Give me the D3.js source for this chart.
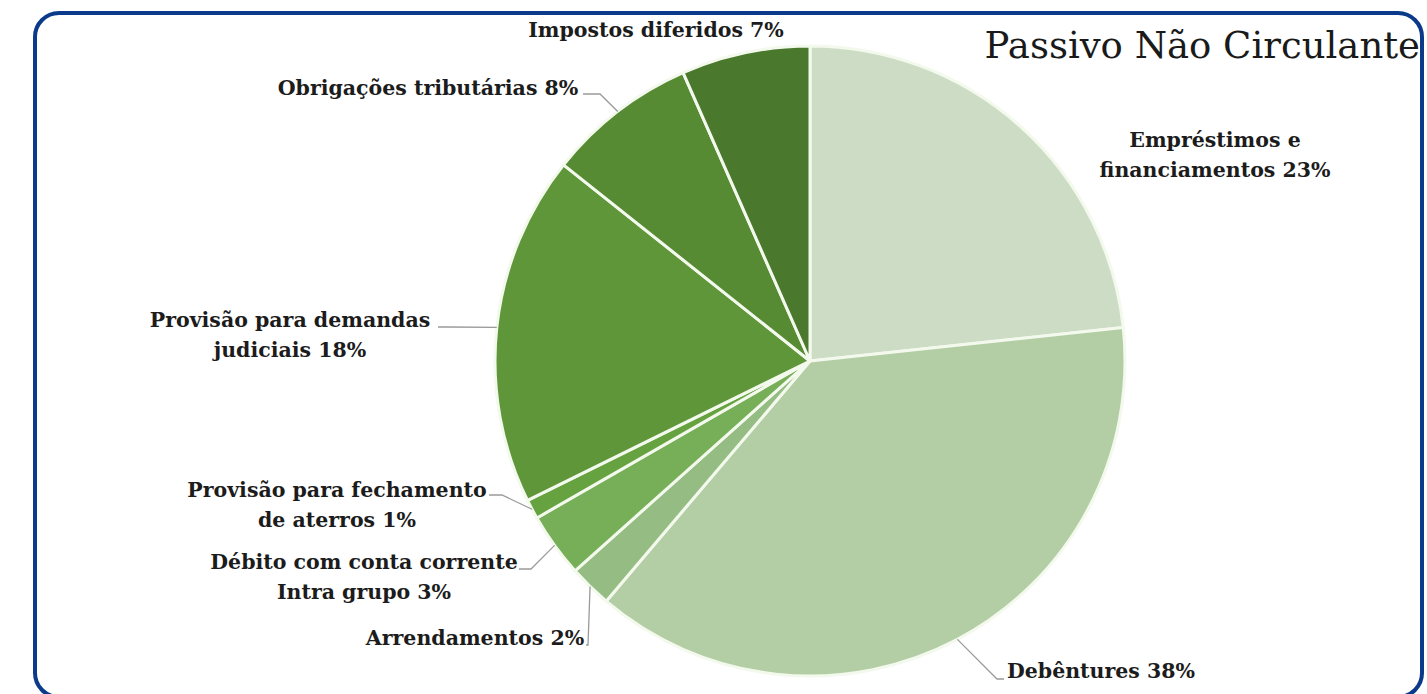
<!DOCTYPE html>
<meta charset="utf-8">
<script src="https://d3js.org/d3.v7.min.js"></script>
<style>
  body { margin: 0; background: #fff; }
  text { font-family: "DejaVu Serif", serif; }
</style>
<div id="chart"></div>
<script>

// slice names (label lines) and values, clockwise from 12 o'clock
var categories = [
  ["Empréstimos e", "financiamentos"],
  ["Debêntures"],
  ["Arrendamentos"],
  ["Débito com conta corrente", "Intra grupo"],
  ["Provisão para fechamento", "de aterros"],
  ["Provisão para demandas", "judiciais"],
  ["Obrigações tributárias"],
  ["Impostos diferidos"]
]
var values = [23.3, 37.9, 2.2, 3.3, 1.0, 18.0, 7.7, 6.6]
var colors = ["#cddcc5", "#b3cda5", "#95bd83", "#77ae58", "#66a240", "#5f963a", "#568a33", "#4a792d"]
var title = "Passivo Não Circulante"

// label placement: centre x, first baseline, and where the leader line leaves the text
var labelPos = [
  {x: 1215, y: 147, line: null},
  {x: 1101, y: 678, line: [[1004, 679], [997, 679]]},
  {x: 475,  y: 645, line: [[586, 645], [588, 645]]},
  {x: 364,  y: 569, line: [[519, 569], [531, 569]]},
  {x: 337,  y: 497, line: [[489, 495], [502, 495]]},
  {x: 290,  y: 327, line: [[438, 327], [450, 327]]},
  {x: 428,  y: 95,  line: [[583, 94], [600, 94]]},
  {x: 656,  y: 37,  line: null}
]

var width = 1427, height = 694
var cx = 810, cy = 361, radius = 315

var svg = d3.select("#chart")
  .append("svg")
    .attr("width", width)
    .attr("height", height)

// frame
svg.append("rect")
  .attr("x", 35).attr("y", 13)
  .attr("width", 1387).attr("height", 684)
  .attr("rx", 24)
  .attr("fill", "#fff")
  .attr("stroke", "#0b3a8a")
  .attr("stroke-width", 4)

var pie = d3.pie().sort(null).value(function(d) { return d; })
var arcs = pie(values)
var arc = d3.arc().innerRadius(0).outerRadius(radius)

var g = svg.append("g")
  .attr("transform", "translate(" + cx + "," + cy + ")")

g.selectAll("path")
  .data(arcs)
  .enter().append("path")
    .attr("d", arc)
    .attr("fill", function(d, i) { return colors[i]; })
    .attr("stroke", "#f3f9ec")
    .attr("stroke-width", 3)
    .attr("stroke-linejoin", "round")

// point on the rim at the middle of a slice
function rimPoint(d) {
  var a = (d.startAngle + d.endAngle) / 2
  return [cx + radius * Math.sin(a), cy - radius * Math.cos(a)]
}

// leader lines
arcs.forEach(function(d, i) {
  var p = labelPos[i]
  if (!p.line) return
  var pts = p.line.concat([rimPoint(d)])
  svg.append("path")
    .attr("d", d3.line()(pts))
    .attr("fill", "none")
    .attr("stroke", "#9a9a9a")
    .attr("stroke-width", 1.3)
})

// labels
arcs.forEach(function(d, i) {
  var p = labelPos[i]
  var lines = categories[i].slice()
  var pct = Math.round(values[i]) + "%"
  lines[lines.length - 1] = lines[lines.length - 1] + " " + pct
  var t = svg.append("text")
    .attr("x", p.x).attr("y", p.y)
    .attr("text-anchor", "middle")
    .attr("font-size", 20.5)
    .attr("font-weight", "bold")
    .attr("fill", "#1c1c1c")
  lines.forEach(function(l, j) {
    t.append("tspan")
      .attr("x", p.x)
      .attr("dy", j === 0 ? 0 : 30)
      .text(l)
  })
})

svg.append("text")
  .attr("x", 1420).attr("y", 58)
  .attr("text-anchor", "end")
  .attr("font-size", 37)
  .attr("fill", "#1a1a1a")
  .text(title)

</script>
